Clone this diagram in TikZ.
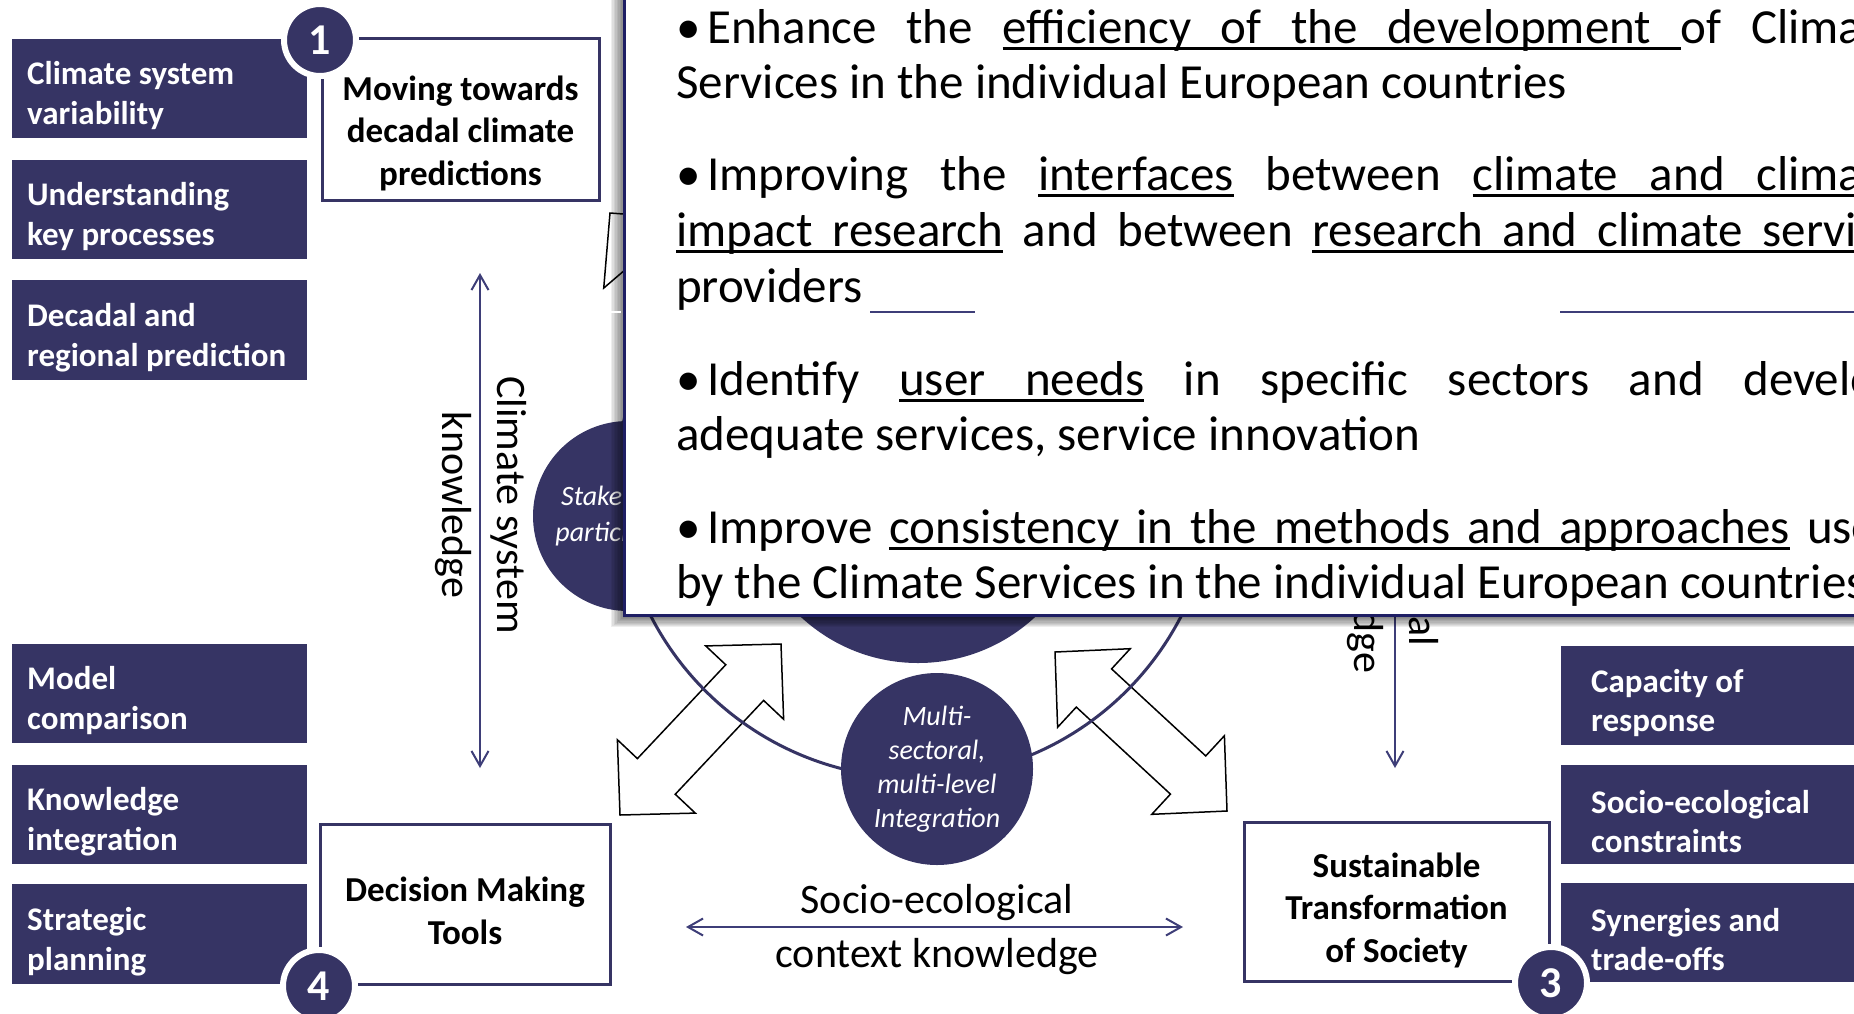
\documentclass[tikz,border=0pt]{standalone}
\usepackage{fontspec}
\setmainfont{Carlito}
\usetikzlibrary{arrows.meta,calc}
\definecolor{navy}{RGB}{54,52,100}
\definecolor{navyline}{RGB}{62,62,120}
\definecolor{navyborder}{RGB}{30,30,100}
\newcommand\myfs[2]{\fontsize{#1}{#2}\selectfont}
\newcommand\myul[1]{\setbox0=\hbox{#1}\rlap{\vrule height -4pt depth 7pt width \wd0}\box0}
\newcommand\mygapu{\leaders\hrule height -4pt depth 7pt\hfill}
\newcommand\myblt{\makebox[31pt][l]{•}}
\newcommand\blockarrow[2]{%
  \draw[barrow] (#1)
    -- ($(#1)!53pt!(#2)!53.5pt!90:(#2)$)
    -- ($(#1)!53pt!(#2)!26pt!90:(#2)$)
    -- ($(#2)!53pt!(#1)!26pt!-90:(#1)$)
    -- ($(#2)!53pt!(#1)!53.5pt!-90:(#1)$)
    -- (#2)
    -- ($(#2)!53pt!(#1)!53.5pt!90:(#1)$)
    -- ($(#2)!53pt!(#1)!26pt!90:(#1)$)
    -- ($(#1)!53pt!(#2)!26pt!-90:(#2)$)
    -- ($(#1)!53pt!(#2)!53.5pt!-90:(#2)$)
    -- cycle;}
\begin{document}
\begin{tikzpicture}[x=1pt,y=-1pt,
  dbox/.style={fill=navy, inner sep=0pt, minimum width=295pt, minimum height=99pt, anchor=west},
  rbox/.style={fill=navy, inner sep=0pt, minimum width=340pt, minimum height=99pt, anchor=west},
  dtxt/.style={text=white, font={\myfs{33}{40}\bfseries}, align=left, inner sep=0pt, anchor=west},
  wbox/.style={draw=navy, line width=3pt, fill=white, inner sep=0pt},
  blab/.style={font={\myfs{35}{42.5}\bfseries}, align=center, text=black, inner sep=0pt},
  numc/.style={circle, fill=navy, draw=white, line width=6pt, minimum size=72pt,
    inner sep=0pt, text=white, font={\myfs{44}{50}\bfseries}},
  vlab/.style={font={\myfs{42}{55}}, align=center, inner sep=0pt},
  ital/.style={font={\myfs{28}{34}\itshape}, text=white, align=center},
  vline/.style={draw=navyline, line width=2pt,
    {Straight Barb[length=15pt,width=17pt]}-{Straight Barb[length=15pt,width=17pt]}},
  barrow/.style={draw=black, line width=1.5pt, fill=white, line join=miter},
  ovl/.style={font={\myfs{49}{56}}, anchor=base west, inner sep=0pt}
]
\useasboundingbox (0,0) rectangle (1854,1013);
\clip (0,0) rectangle (1854,1013);
\fill[white] (0,0) rectangle (1854,1013);

% left dark boxes
\node[dbox] (d1) at (12,88.5) {};
\node[dtxt] (d1t) at (27,96) {Climate system\\variability};
\node[dbox] (d2) at (12,209.5) {};
\node[dtxt] (d2t) at (27,217) {Understanding\\key processes};
\node[dbox, minimum height=100pt] (d3) at (12,330) {};
\node[dtxt] (d3t) at (27,338) {Decadal and\\regional prediction};
\node[dbox] (d4) at (12,693.5) {};
\node[dtxt] (d4t) at (27,701) {Model\\comparison};
\node[dbox] (d5) at (12,814) {};
\node[dtxt] (d5t) at (27,822) {Knowledge\\integration};
\node[dbox, minimum height=100pt] (d6) at (12,934) {};
\node[dtxt] (d6t) at (27,942) {Strategic\\planning};
% right dark boxes
\node[rbox] (r1) at (1561,695.5) {};
\node[dtxt, font={\myfs{33}{39}\bfseries}] (r1t) at (1591,703) {Capacity of\\response};
\node[rbox] (r2) at (1561,814.5) {};
\node[dtxt, font={\myfs{33}{39}\bfseries}] (r2t) at (1591,822) {Socio-ecological\\constraints};
\node[rbox] (r3) at (1561,932.5) {};
\node[dtxt, font={\myfs{33}{39}\bfseries}] (r3t) at (1591,940) {Synergies and\\trade-offs};

% white boxes
\node[wbox, minimum width=277pt, minimum height=162pt] (wb1) at (460.5,119) {};
\node[blab] (t1) at (460.5,133) {Moving towards\\decadal climate\\predictions};
\node[wbox, minimum width=290pt, minimum height=160pt] (wb4) at (465,904) {};
\node[blab] (t4) at (465,911) {Decision Making\\Tools};
\node[wbox, minimum width=305pt, minimum height=159pt] (wb3) at (1396.5,901.5) {};
\node[blab] (t3) at (1396.5,910) {Sustainable\\Transformation\\of Society};

% block arrows
\coordinate (la1) at (620,815); \coordinate (la2) at (781,644);
\coordinate (ra1) at (1055,652); \coordinate (ra2) at (1227,811);
\coordinate (ta1) at (610,213); \coordinate (ta2) at (762,391);
\blockarrow{la1}{la2}
\blockarrow{ra1}{ra2}
\blockarrow{ta1}{ta2}

% circles
\node[circle, draw=navy, line width=3pt, minimum size=596pt, inner sep=0pt] (ring) at (916,480) {};
\node[circle, fill=navy, minimum size=344pt, inner sep=0pt] (core) at (918,491) {};
\node[circle, fill=navy, minimum size=190pt, inner sep=0pt, ital, font={\myfs{28}{36}\itshape}] (stake) at (628,516) {Stakeholder\\participation};
\node[circle, fill=navy, minimum size=192pt, inner sep=0pt, ital] (multi) at (937,769) {Multi-\\sectoral,\\multi-level\\Integration};

% knowledge arrows
\coordinate (va1) at (480,273); \coordinate (va2) at (480,768);
\coordinate (vb1) at (1395,273); \coordinate (vb2) at (1395,768);
\coordinate (ha1) at (686,927); \coordinate (ha2) at (1183,927);
\draw[vline] (va1) -- (va2);
\draw[vline] (vb1) -- (vb2);
\draw[vline] (ha1) -- (ha2);
\node[vlab, rotate=-90] (lab1) at (480.5,505) {Climate system\\knowledge};
\node[vlab, rotate=-90] (lab2) at (1392.5,580) {Societal\\knowledge};
\node[vlab, font={\myfs{42}{54}}] (lab3) at (937,930) {Socio-ecological\\context knowledge};

% number circles
\node[numc] (n1) at (320,40) {1};
\node[numc] (n4) at (319,986) {4};
\node[numc] (n3) at (1551,983) {3};

% overlay shadow
\foreach \i in {1,...,9}
  \fill[black, opacity=0.065] (624-1.5*\i,-20) rectangle (1930,617+1.1*\i);
% overlay box
\node[draw=navyborder, line width=3pt, fill=white, minimum width=1320pt, minimum height=660pt,
  anchor=south west, inner sep=0pt] (ovbox) at (623,617) {};

% overlay text
\node[ovl] (o1) at (676,43) {\myblt\hbox to 1195pt{Enhance\hfill the\hfill \myul{efficiency}\mygapu\myul{of}\mygapu\myul{the}\mygapu\myul{development}\mygapu of\hfill Climate}};
\node[ovl] (o2) at (676,98) {Services in the individual European countries};
\node[ovl] (o3) at (676,190) {\myblt\hbox to 1195pt{Improving\hfill the\hfill \myul{interfaces}\hfill between\hfill \myul{climate}\mygapu\myul{and}\mygapu\myul{climate}}};
\node[ovl] (o4) at (676,246) {\hbox to 1226pt{\myul{impact}\mygapu\myul{research}\hfill and\hfill between\hfill \myul{research}\mygapu\myul{and}\mygapu\myul{climate}\mygapu\myul{service}}};
\node[ovl] (o5) at (676,302) {providers};
\node[ovl] (o6) at (676,395) {\myblt\hbox to 1195pt{Identify\hfill \myul{user}\mygapu\myul{needs}\hfill in\hfill specific\hfill sectors\hfill and\hfill develop}};
\node[ovl] (o7) at (676,450) {adequate services, service innovation};
\node[ovl] (o8) at (676,543) {\myblt\hbox to 1195pt{Improve\hfill \myul{consistency}\mygapu\myul{in}\mygapu\myul{the}\mygapu\myul{methods}\mygapu\myul{and}\mygapu\myul{approaches}\hfill used}};
\node[ovl] (o9) at (676,598) {by the Climate Services in the individual European countries};

% seam in the overlay
\draw[white, line width=1.5pt] (600,312) -- (621,312);
\draw[navyline, line width=2pt] (870,312) -- (975,312);
\draw[navyline, line width=2pt] (1560,312) -- (1854,312);
\end{tikzpicture}
\end{document}
